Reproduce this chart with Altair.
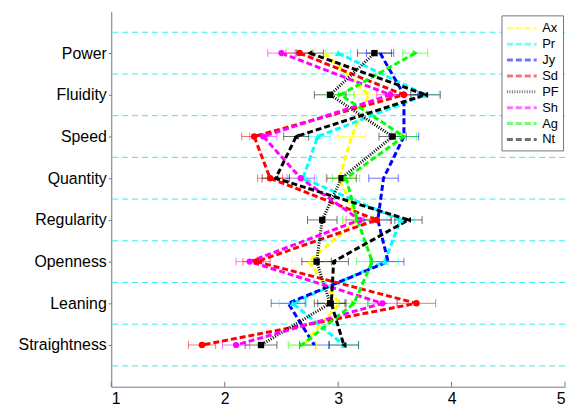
import altair as alt
import pandas as pd

categories = ["Power", "Fluidity", "Speed", "Quantity", "Regularity",
              "Openness", "Leaning", "Straightness"]
series = ["Ax", "Pr", "Jy", "Sd", "PF", "Sh", "Ag", "Nt"]
colors = ["#ffff00", "#00ffff", "#0000ff", "#ff0000", "#000000",
          "#ff00ff", "#00ff00", "#000000"]
dashes = [[6, 3], [6, 3], [6, 3], [6, 3], [1, 1.5], [6, 3], [6, 3], [6, 3]]
widths = [3, 3, 3, 3, 1.5, 3, 3, 3]

# values per category (Power ... Straightness)
ax_vals = [2.88, 3.27, 3.12, 3.01, 3.17, 2.74, 3.01, 2.69]
pr_vals = [3.00, 3.77, 2.82, 2.69, 3.55, 3.41, 2.60, 3.05]
jy_vals = [3.37, 3.58, 3.58, 3.40, 3.35, 3.44, 2.56, 2.79]
sd_vals = [2.66, 3.58, 2.26, 2.40, 3.34, 2.28, 3.69, 1.80]
pf_vals = [3.32, 2.93, 3.48, 3.03, 2.86, 2.81, 2.93, 2.32]
sh_vals = [2.50, 3.46, 2.34, 2.67, 3.19, 2.22, 3.39, 2.10]
ag_vals = [3.68, 3.02, 3.58, 3.07, 3.17, 3.30, 3.14, 2.68]
nt_vals = [2.75, 3.77, 2.63, 2.45, 3.62, 2.96, 2.94, 3.05]

# error half-widths
ax_err = [0.12, 0.13, 0.12, 0.12, 0.12, 0.15, 0.12, 0.12]
pr_err = [0.11, 0.12, 0.11, 0.12, 0.12, 0.12, 0.12, 0.13]
jy_err = [0.12, 0.13, 0.13, 0.13, 0.12, 0.14, 0.15, 0.13]
sd_err = [0.12, 0.12, 0.11, 0.11, 0.12, 0.12, 0.17, 0.12]
pf_err = [0.15, 0.14, 0.12, 0.13, 0.13, 0.13, 0.14, 0.14]
sh_err = [0.12, 0.12, 0.12, 0.12, 0.12, 0.12, 0.13, 0.12]
ag_err = [0.11, 0.12, 0.11, 0.12, 0.13, 0.14, 0.13, 0.12]
nt_err = [0.12, 0.13, 0.11, 0.12, 0.12, 0.13, 0.12, 0.13]

x_ticks = [1, 2, 3, 4, 5]

marker_series = ["Pr", "Sd", "PF", "Sh", "Ag", "Nt"]
marker_shapes = ["triangle-up", "circle", "square", "circle", "triangle-right", "triangle-left"]
marker_sizes = [45, 35, 45, 60, 60, 60]

vals = dict(zip(series, [ax_vals, pr_vals, jy_vals, sd_vals, pf_vals, sh_vals, ag_vals, nt_vals]))
errs = dict(zip(series, [ax_err, pr_err, jy_err, sd_err, pf_err, sh_err, ag_err, nt_err]))

n = len(categories)
rows = []
for s in series:
    for i, c in enumerate(categories):
        v = vals[s][i]
        e = errs[s][i]
        rows.append(dict(series=s, cat=c, pos=n - i, value=v, lo=v - e, hi=v + e, ord=i))
df = pd.DataFrame(rows)
grid_df = pd.DataFrame({"g": [0.5 + k for k in range(n + 1)]})
tick_df = pd.DataFrame({"t": x_ticks})

FONT = "Liberation Sans"
label_arr = "[" + ",".join(["''"] + ["'%s'" % c for c in reversed(categories)] + ["''"]) + "]"

yscale = alt.Scale(domain=[0, n + 1], nice=False, zero=False)
xscale = alt.Scale(domain=[1, 5], nice=False, zero=False)
yaxis = alt.Axis(values=list(range(1, n + 1)), labelExpr=label_arr + "[datum.value]",
                 title=None, grid=False, tickSize=3, labelPadding=2,
                 minExtent=100, maxExtent=100)
xaxis = alt.Axis(values=x_ticks, format="d", title=None, grid=False, tickSize=0,
                 labelPadding=4)

color_scale = alt.Scale(domain=series, range=colors)
color_enc = alt.Color("series:N", scale=color_scale,
                      legend=alt.Legend(title=None, orient="none", legendX=393, legendY=4,
                                        symbolType="M-1,0H3", symbolSize=225, symbolStrokeWidth=3,
                                        labelFontSize=13, labelFont=FONT, padding=4, rowPadding=0,
                                        strokeColor="#777", fillColor="white", labelOffset=19))

grid = alt.Chart(grid_df).mark_rule(color="#33eeee", strokeDash=[6, 4], strokeWidth=1).encode(
    y=alt.Y("g:Q", scale=yscale, axis=yaxis)
)

base = alt.Chart(df)

err = base.mark_rule(strokeWidth=1, opacity=0.55).encode(
    y=alt.Y("pos:Q", scale=yscale, axis=yaxis),
    x=alt.X("lo:Q", scale=xscale, axis=xaxis),
    x2="hi:Q",
    color=color_enc,
)
cap_lo = base.mark_tick(orient="vertical", size=8, thickness=1, opacity=0.55).encode(
    y=alt.Y("pos:Q", scale=yscale, axis=yaxis),
    x=alt.X("lo:Q", scale=xscale, axis=xaxis),
    color=color_enc,
)
cap_hi = base.mark_tick(orient="vertical", size=8, thickness=1, opacity=0.55).encode(
    y=alt.Y("pos:Q", scale=yscale, axis=yaxis),
    x=alt.X("hi:Q", scale=xscale, axis=xaxis),
    color=color_enc,
)

lines = base.mark_line().encode(
    y=alt.Y("pos:Q", scale=yscale, axis=yaxis),
    x=alt.X("value:Q", scale=xscale, axis=xaxis),
    color=color_enc,
    strokeDash=alt.StrokeDash("series:N", scale=alt.Scale(domain=series, range=dashes)),
    strokeWidth=alt.StrokeWidth("series:N", scale=alt.Scale(domain=series, range=widths), legend=None),
    order=alt.Order("ord:Q"),
)

pts = base.transform_filter(
    alt.FieldOneOfPredicate(field="series", oneOf=marker_series)
).mark_point(filled=True, opacity=1).encode(
    y=alt.Y("pos:Q", scale=yscale, axis=yaxis),
    x=alt.X("value:Q", scale=xscale, axis=xaxis),
    color=color_enc,
    shape=alt.Shape("series:N", scale=alt.Scale(domain=marker_series, range=marker_shapes), legend=None),
    size=alt.Size("series:N", scale=alt.Scale(domain=marker_series, range=marker_sizes), legend=None),
)

xt = alt.Chart(tick_df).mark_rule(color="#777", strokeWidth=1).encode(
    x=alt.X("t:Q", scale=xscale, axis=xaxis),
    y=alt.value(378),
    y2=alt.value(373),
)

chart = alt.layer(grid, err, cap_lo, cap_hi, lines, pts, xt).properties(
    width=457, height=378,
    padding={"left": 4, "top": 2, "right": 2, "bottom": 0},
).configure_view(stroke=None).configure_axis(
    labelFont=FONT, labelFontSize=16, labelColor="#000",
    domainColor="#777", tickColor="#777",
)

chart.save("out.html", embed_options={"renderer": "svg", "actions": False})
